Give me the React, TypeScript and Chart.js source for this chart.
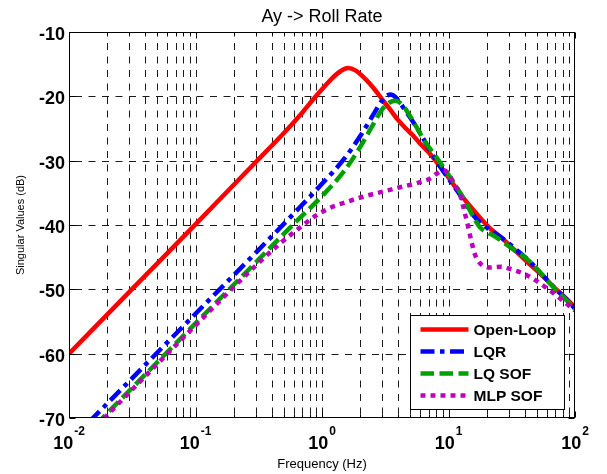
import React, { useEffect, useRef } from 'react';
import { Chart, registerables } from 'chart.js';

Chart.register(...registerables);

// ---------- data ----------
const chartTitle = 'Ay -> Roll Rate';
const xAxisTitle = 'Frequency (Hz)';
const yAxisTitle = 'Singular Values (dB)';
const seriesNames = ['Open-Loop', 'LQR', 'LQ SOF', 'MLP SOF'];

const xTickExponents = [-2, -1, 0, 1, 2];
const yTickValues = [-10, -20, -30, -40, -50, -60, -70];

const openLoopFreq = [0.01, 0.03, 0.1, 0.3, 0.5, 0.7, 0.85, 1.0, 1.2, 1.4, 1.6, 1.85, 2.2, 2.6, 3.0, 3.5, 4.0, 4.6, 5.2, 6.0, 7.1, 8.5, 10, 11.5, 13, 15, 18, 21, 27, 35, 45, 56, 70, 85, 100];
const openLoopDb = [-60, -50.4, -39.9, -30.2, -25.7, -22.5, -20.5, -18.9, -17.2, -16.1, -15.6, -16.0, -17.3, -18.9, -20.5, -22.2, -23.7, -25.0, -26.0, -27.4, -28.9, -30.8, -32.6, -34.3, -35.7, -37.2, -39.0, -40.4, -42.2, -44.3, -46.3, -48.0, -49.9, -51.4, -52.8];

const lqrFreq = [0.01, 0.1, 0.3, 0.6, 1.0, 1.5, 2.0, 2.5, 2.9, 3.2, 3.5, 3.8, 4.2, 4.7, 5.5, 6.3, 7.1, 8.5, 10, 12.3, 14, 16.5, 20, 26, 34.6, 45, 56, 70, 85, 100];
const lqrDb = [-73.8, -53.8, -44.3, -38.2, -33.6, -29.7, -26.2, -23.1, -21.0, -20.0, -19.7, -20.1, -21.2, -22.6, -24.6, -26.5, -28.3, -30.8, -32.8, -35.3, -37.1, -39.0, -40.4, -41.9, -43.9, -45.9, -47.9, -49.9, -51.5, -53.0];

const lqSofFreq = [0.01, 0.1, 0.3, 0.6, 1.0, 1.5, 2.0, 2.5, 3.0, 3.4, 3.8, 4.3, 4.8, 5.3, 6.5, 8.1, 10, 13.1, 15.8, 17.8, 20, 22.5, 30.5, 44, 67, 100];
const lqSofDb = [-75.3, -55.3, -45.8, -39.8, -35.5, -31.6, -27.9, -24.6, -22.0, -21.0, -20.7, -21.3, -22.6, -24.0, -27.0, -29.6, -32.2, -35.8, -38.8, -40.4, -41.1, -41.6, -43.4, -45.7, -49.6, -53.0];

const mlpSofFreq = [0.01, 0.1, 0.3, 0.47, 0.65, 0.9, 1.2, 1.57, 2.2, 3.05, 4.2, 5.6, 7.1, 8.1, 9.1, 10, 10.9, 12.3, 13.1, 14.2, 15.2, 16.2, 18.3, 21.3, 26, 30.5, 41.6, 56, 75, 100];
const mlpSofDb = [-75.6, -55.6, -46.3, -42.8, -40.6, -38.5, -37.2, -36.4, -35.5, -34.8, -34.1, -33.5, -32.8, -32.0, -31.5, -32.0, -33.4, -35.2, -37.2, -40.0, -42.6, -44.6, -46.2, -46.6, -46.5, -46.8, -47.8, -49.4, -51.3, -53.3];

// ---------- styles ----------
const FONT = "'Liberation Sans', Arial, Helvetica, sans-serif";
const seriesColors = ['#ff0000', '#0000ff', '#00a000', '#bf00bf'];
const seriesDashes: number[][] = [[], [14, 5.5, 4.5, 5.5], [13.5, 5.5], [5, 5]];
const LINE_W = 4.5;

const matlabPlugin = {
  id: 'matlabAxes',
  beforeDraw(chart: any) {
    const { ctx, width, height } = chart;
    ctx.save();
    ctx.fillStyle = '#ffffff';
    ctx.fillRect(0, 0, width, height);
    ctx.restore();
  },
  beforeDatasetsDraw(chart: any) {
    const { ctx, chartArea: a, scales } = chart;
    const xs = scales.x;
    const ys = scales.y;
    ctx.save();
    ctx.strokeStyle = '#1a1a1a';
    ctx.lineWidth = 1;
    ctx.setLineDash([7, 6.5]);
    // vertical grid (log decades + minors)
    ctx.lineDashOffset = 2.5;
    for (let i = 0; i < xTickExponents.length - 1; i++) {
      for (let m = 1; m <= 9; m++) {
        const v = m * Math.pow(10, xTickExponents[i]);
        if (i === 0 && m === 1) continue;
        const px = Math.round(xs.getPixelForValue(v)) + 0.5;
        ctx.beginPath();
        ctx.moveTo(px, a.top);
        ctx.lineTo(px, a.bottom);
        ctx.stroke();
      }
    }
    // horizontal grid
    ctx.lineDashOffset = 7.5;
    for (const v of yTickValues) {
      if (v === -10 || v === -70) continue;
      const py = Math.round(ys.getPixelForValue(v)) + 0.5;
      ctx.beginPath();
      ctx.moveTo(a.left, py);
      ctx.lineTo(a.right, py);
      ctx.stroke();
    }
    ctx.restore();
  },
  afterDatasetsDraw(chart: any) {
    const { ctx, chartArea: a, scales } = chart;
    const xs = scales.x;
    const ys = scales.y;
    const L = Math.round(a.left) + 0.5;
    const R = Math.round(a.right) - 0.5;
    const T = Math.round(a.top) + 0.5;
    const B = Math.round(a.bottom) - 0.5;
    ctx.save();
    ctx.strokeStyle = '#000';
    ctx.lineWidth = 1;
    ctx.setLineDash([]);
    // ticks
    ctx.beginPath();
    for (let i = 0; i < xTickExponents.length; i++) {
      const maxM = i === xTickExponents.length - 1 ? 1 : 9;
      for (let m = 1; m <= maxM; m++) {
        const v = m * Math.pow(10, xTickExponents[i]);
        const px = Math.round(xs.getPixelForValue(v)) + 0.5;
        const len = m === 1 ? 6 : 3;
        ctx.moveTo(px, B);
        ctx.lineTo(px, B - len);
        ctx.moveTo(px, T);
        ctx.lineTo(px, T + len);
      }
    }
    for (const v of yTickValues) {
      const py = Math.round(ys.getPixelForValue(v)) + 0.5;
      ctx.moveTo(L, py);
      ctx.lineTo(L + 6, py);
      ctx.moveTo(R, py);
      ctx.lineTo(R - 6, py);
    }
    ctx.stroke();
    // box
    ctx.strokeRect(L, T, R - L, B - T);
    ctx.restore();
  },
  afterDraw(chart: any) {
    const { ctx, chartArea: a, scales } = chart;
    const xs = scales.x;
    const ys = scales.y;
    ctx.save();
    ctx.fillStyle = '#000';
    // title
    ctx.font = `18px ${FONT}`;
    ctx.textAlign = 'center';
    ctx.textBaseline = 'alphabetic';
    ctx.fillText(chartTitle, (a.left + a.right) / 2, 22);
    // y tick labels
    ctx.font = `bold 18px ${FONT}`;
    ctx.textAlign = 'right';
    for (const v of yTickValues) {
      const py = ys.getPixelForValue(v);
      ctx.fillText(String(v), a.left - 4, py + 8);
    }
    // x tick labels with superscripts
    ctx.textAlign = 'left';
    for (const e of xTickExponents) {
      const px = xs.getPixelForValue(Math.pow(10, e));
      ctx.font = `bold 18px ${FONT}`;
      const wb = ctx.measureText('10').width;
      ctx.font = `bold 12px ${FONT}`;
      const we = ctx.measureText(String(e)).width;
      const start = px - (wb + we + 1) / 2;
      ctx.font = `bold 18px ${FONT}`;
      ctx.fillText('10', start, 449);
      ctx.font = `bold 12px ${FONT}`;
      ctx.fillText(String(e), start + wb + 1, 435);
    }
    // axis titles
    ctx.font = `13px ${FONT}`;
    ctx.textAlign = 'center';
    ctx.fillText(xAxisTitle, (a.left + a.right) / 2, 468);
    ctx.save();
    ctx.translate(24, (a.top + a.bottom) / 2);
    ctx.rotate(-Math.PI / 2);
    ctx.font = `11px ${FONT}`;
    ctx.fillText(yAxisTitle, 0, 0);
    ctx.restore();
    // legend
    const bx = 410.5, by = 315.5, bw = 154, bh = 94;
    ctx.fillStyle = '#fff';
    ctx.fillRect(bx, by, bw, bh);
    ctx.strokeStyle = '#000';
    ctx.lineWidth = 1;
    ctx.strokeRect(bx, by, bw, bh);
    const rowY = [329.5, 351.5, 373.5, 395.5];
    for (let i = 0; i < seriesNames.length; i++) {
      ctx.save();
      ctx.strokeStyle = seriesColors[i];
      ctx.lineWidth = LINE_W;
      ctx.lineCap = 'butt';
      ctx.setLineDash(seriesDashes[i]);
      ctx.beginPath();
      ctx.moveTo(420.5, rowY[i]);
      ctx.lineTo(468.5, rowY[i]);
      ctx.stroke();
      ctx.restore();
      ctx.fillStyle = '#000';
      ctx.font = `bold 15.5px ${FONT}`;
      ctx.textAlign = 'left';
      ctx.textBaseline = 'alphabetic';
      ctx.fillText(seriesNames[i], 473.5, rowY[i] + 5.5);
    }
    ctx.restore();
  },
};

export default function App() {
  const ref = useRef<HTMLCanvasElement | null>(null);
  useEffect(() => {
    if (!ref.current) return;
    const freqs = [openLoopFreq, lqrFreq, lqSofFreq, mlpSofFreq];
    const dbs = [openLoopDb, lqrDb, lqSofDb, mlpSofDb];
    const chart = new Chart(ref.current, {
      type: 'line',
      data: {
        datasets: seriesNames.map((name, i) => ({
          label: name,
          data: freqs[i].map((f, j) => ({ x: f, y: dbs[i][j] })),
          borderColor: seriesColors[i],
          borderWidth: LINE_W,
          borderDash: seriesDashes[i],
          borderCapStyle: 'butt',
          pointRadius: 0,
          fill: false,
          clip: 0,
          cubicInterpolationMode: 'monotone',
          order: seriesNames.length - i,
        })),
      },
      options: {
        animation: false,
        responsive: false,
        devicePixelRatio: 1,
        layout: { padding: { left: 69, right: 32, top: 32, bottom: 56 } },
        plugins: { legend: { display: false }, title: { display: false }, tooltip: { enabled: false } },
        events: [],
        scales: {
          x: { type: 'logarithmic', min: 0.01, max: 100, display: false },
          y: { type: 'linear', min: -70, max: -10, display: false },
        },
      },
      plugins: [matlabPlugin],
    } as any);
    return () => chart.destroy();
  }, []);
  return (
    <div style={{ position: 'absolute', left: 0, top: 0, width: 607, height: 474 }}>
      <canvas ref={ref} width={607} height={474} style={{ width: 607, height: 474, display: 'block' }} />
    </div>
  );
}
